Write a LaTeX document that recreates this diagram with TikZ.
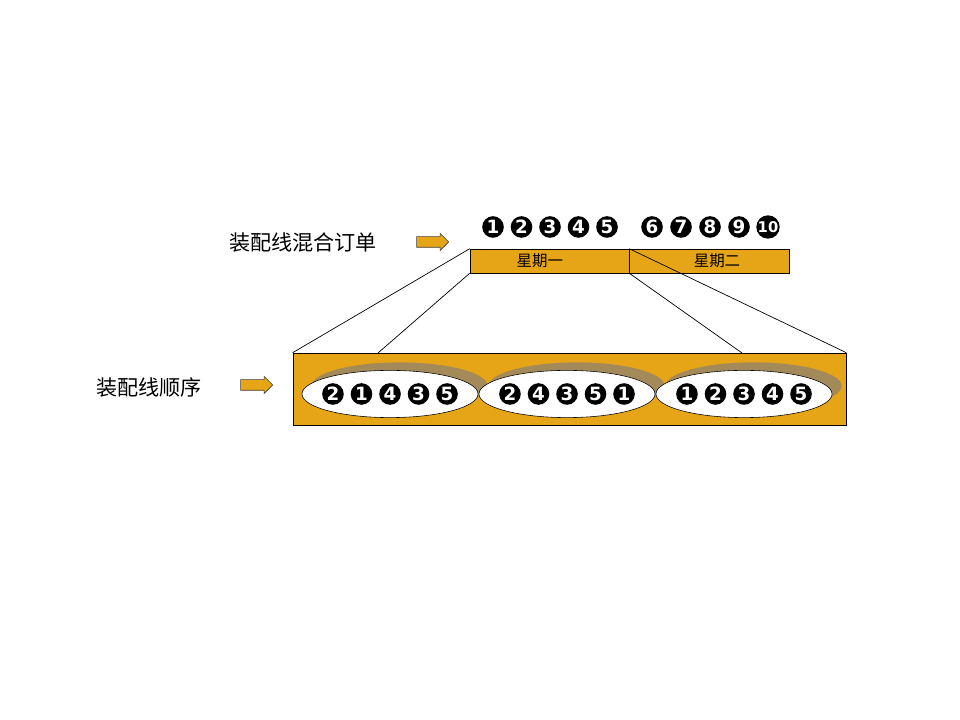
\documentclass[tikz,border=0pt]{standalone}
\usepackage{fontspec}
\setmainfont{Noto Sans CJK SC}
\newfontfamily\digitfont{DejaVu Sans}
\usetikzlibrary{positioning,shapes.geometric,shapes.arrows,shadows}
\definecolor{lineorange}{HTML}{E6A417}
\definecolor{shadebrown}{HTML}{A48A58}
\tikzset{
  blockarr/.style={single arrow, draw=black!75, fill=lineorange, inner sep=0.125cm,
    minimum height=0.8cm, single arrow head extend=0.08cm},
  guide/.style={draw=black, line width=0.5pt},
  cnlabel/.style={font=\fontsize{15}{18}\selectfont, inner sep=0pt},
}

\begin{document}
\begin{tikzpicture}[
  x=0.025cm, y=-0.025cm,
  num/.style={circle, fill=black, text=white, inner sep=0pt, minimum size=0.54cm,
    font=\digitfont\bfseries\fontsize{13}{13}\selectfont},
  numten/.style={num, font=\digitfont\bfseries\fontsize{10.5}{11}\selectfont},
  daybox/.style={draw=black, fill=lineorange, minimum height=0.6cm, inner sep=0pt},
  daytext/.style={font=\fontsize{11}{12}\selectfont, inner sep=0pt},
  linebox/.style={draw=black, fill=lineorange, minimum width=13.825cm, minimum height=1.8cm},
  batch/.style={ellipse, draw=black, fill=white, minimum width=4.4cm, minimum height=1.18cm,
    general shadow={fill=shadebrown, shadow xshift=0.24cm, shadow yshift=0.2cm}},
]
  \useasboundingbox (0,0) rectangle (960,720);

  \node[cnlabel] (ordlbl) at (303,243) {装配线混合订单};
  \node[blockarr] (ordarr) at (430,242) {};
  \node[cnlabel] (seqlbl) at (149,387) {装配线顺序};
  \node[blockarr] (seqarr) at (254,385) {};

  \foreach \n [count=\i] in {1,...,5}
    \node[num] (top\n) at (493+28.5*\i-28.5,227) {\n};
  \foreach \n [count=\i] in {6,...,9}
    \node[num] (top\n) at (652+29*\i-29,227) {\n};
  \node[numten] (top10) at (768,227) {10};

  \node[daybox, minimum width=3.975cm,
    label={[daytext, xshift=-0.24cm]center:星期一}] (mon) at (549.5,261) {};
  \node[daybox, minimum width=4cm,
    label={[daytext, xshift=0.2cm]center:星期二}] (tue) at (709,261) {};

  \node[linebox] (line) at (569.5,389) {};
  \coordinate (lfoot) at (378,353);
  \coordinate (rfoot) at (742,353);
  \draw[guide] (mon.north west) -- (line.north west);
  \draw[guide] (mon.south west) -- (lfoot);
  \draw[guide] (mon.north east) -- (line.north east);
  \draw[guide] (mon.south east) -- (rfoot);

  \foreach \cx [count=\k] in {390,567,744}
    \node[batch] (b\k) at (\cx,394) {};
  \foreach \k/\seq in {1/{2,1,4,3,5},2/{2,4,3,5,1},3/{1,2,3,4,5}}
    \foreach \n [count=\i] in \seq
      \node[num] (b\k n\i) at ([xshift={(\i-3)*0.7125cm}]b\k) {\n};
\end{tikzpicture}
\end{document}
